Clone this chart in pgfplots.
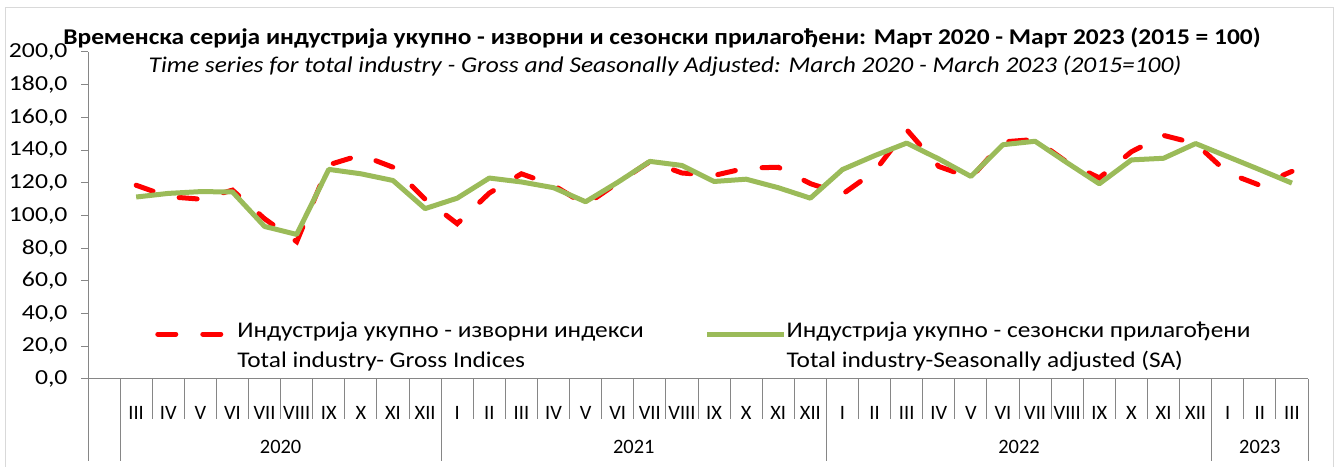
\documentclass[border=0pt]{standalone}
\usepackage{pgfplots}
\pgfplotsset{compat=1.18}
\usepackage{fontspec}
\setmainfont{Carlito}
\newfontfamily\widefont{Carlito}[FakeStretch=1.13]
\newfontfamily\tickfont{Carlito}[FakeStretch=1.2]
\definecolor{sared}{RGB}{255,0,0}
\definecolor{sagreen}{RGB}{155,187,89}
\definecolor{axisgray}{RGB}{134,134,134}
\definecolor{framegray}{RGB}{217,217,217}
\begin{document}
\begin{tikzpicture}[x=1bp,y=1bp]
\useasboundingbox (0,0) rectangle (1338,467);
\draw[framegray,line width=1bp] (5.5,0) -- (5.5,459) -- (1333.5,459) -- (1333.5,0);
\node[font=\widefont\bfseries\fontsize{22.6}{26}\selectfont] at (662,428.5) {Временска серија индустрија укупно - изворни и сезонски прилагођени: Март 2020 - Март 2023 (2015 = 100)};
\node[font=\widefont\itshape\fontsize{22.6}{26}\selectfont] at (665,400.5) {Time series for total industry - Gross and Seasonally Adjusted: March 2020 - March 2023 (2015=100)};
\begin{axis}[
  at={(88bp,88bp)}, anchor=south west,
  scale only axis, width=1220bp, height=327bp,
  xmin=-0.5, xmax=37.5, ymin=0, ymax=200,
  axis x line=bottom, axis y line=left,
  axis line style={-, draw=axisgray, line width=1bp},
  ytick={0,20,...,200},
  xtick={1,...,37},
  xticklabels={III,IV,V,VI,VII,VIII,IX,X,XI,XII,I,II,III,IV,V,VI,VII,VIII,IX,X,XI,XII,I,II,III,IV,V,VI,VII,VIII,IX,X,XI,XII,I,II,III},
  xtick style={draw=none},
  ytick style={draw=axisgray, line width=1bp},
  tick align=outside, major tick length=7bp,
  xticklabel style={anchor=center, yshift=-27bp, font=\fontsize{20.5}{24}\selectfont},
  yticklabel style={font=\tickfont\fontsize{21.5}{26}\selectfont, xshift=-10bp,
    /pgf/number format/.cd, fixed, fixed zerofill, precision=1, use comma, assume math mode=true},
  clip=false,
  legend columns=2,
  legend cell align=left,
  legend style={at={(0.055,0.176)}, anchor=north west, draw=none, fill=none,
    inner sep=0pt, cells={align=left},
    font=\widefont\fontsize{22.5}{30}\selectfont,
    nodes={inner xsep=0bp, inner ysep=0bp},
    /tikz/every even column/.append style={column sep=61bp}},
  legend image code/.code={\draw[#1] (-2bp,11bp) -- (75bp,11bp);},
]
\addplot[sared, line width=5bp, line cap=round, dash pattern=on 18bp off 27bp] coordinates {
(1,118.5)(2,111.5)(3,110)(4,115.5)(5,98)(6,84)(7,131)(8,137)(9,129.5)(10,110)
(11,95)(12,113.7)(13,125.5)(14,118.5)(15,106.5)(16,120)(17,133)(18,126)(19,124.5)(20,129)(21,129.5)(22,119.5)
(23,113)(24,127)(25,152.5)(26,130)(27,123)(28,145)(29,146.5)(30,132.5)(31,123)(32,139)(33,149)(34,144)
(35,126)(36,118.5)(37,127)};
\addlegendentry{Индустрија укупно - изворни индекси\\Total industry- Gross Indices}
\addplot[sagreen, line width=5bp, line join=round] coordinates {
(1,111.3)(2,113.5)(3,114.6)(4,114.4)(5,93.3)(6,88.4)(7,128.2)(8,125.5)(9,121.4)(10,104.2)
(11,110.6)(12,122.9)(13,120.5)(14,117)(15,108.4)(16,120.3)(17,133.1)(18,130.6)(19,120.8)(20,122.2)(21,117)(22,110.6)
(23,128.1)(24,136.6)(25,144.3)(26,134.6)(27,123.9)(28,143.3)(29,145.4)(30,132.2)(31,119.4)(32,134)(33,135)(34,144)
(35,136)(36,128)(37,119.8)};
\addlegendentry{Индустрија укупно - сезонски прилагођени\\Total industry-Seasonally adjusted (SA)}
\pgfplotsinvokeforeach{1.5,2.5,3.5,4.5,5.5,6.5,7.5,8.5,9.5,11.5,12.5,13.5,14.5,15.5,16.5,17.5,18.5,19.5,20.5,21.5,23.5,24.5,25.5,26.5,27.5,28.5,29.5,30.5,31.5,32.5,33.5,35.5,36.5}{
  \draw[axisgray, line width=1bp] (axis cs:#1,0) -- ([yshift=-40bp]axis cs:#1,0);
}
\pgfplotsinvokeforeach{-0.5,0.5,10.5,22.5,34.5,37.5}{
  \draw[axisgray, line width=1bp] (axis cs:#1,0) -- ([yshift=-82bp]axis cs:#1,0);
}
\node[font=\fontsize{20.5}{24}\selectfont] at (axis cs:5.5,0) [yshift=-68bp] {2020};
\node[font=\fontsize{20.5}{24}\selectfont] at (axis cs:16.5,0) [yshift=-68bp] {2021};
\node[font=\fontsize{20.5}{24}\selectfont] at (axis cs:28.5,0) [yshift=-68bp] {2022};
\node[font=\fontsize{20.5}{24}\selectfont] at (axis cs:36,0) [yshift=-68bp] {2023};
\end{axis}
\end{tikzpicture}
\end{document}
